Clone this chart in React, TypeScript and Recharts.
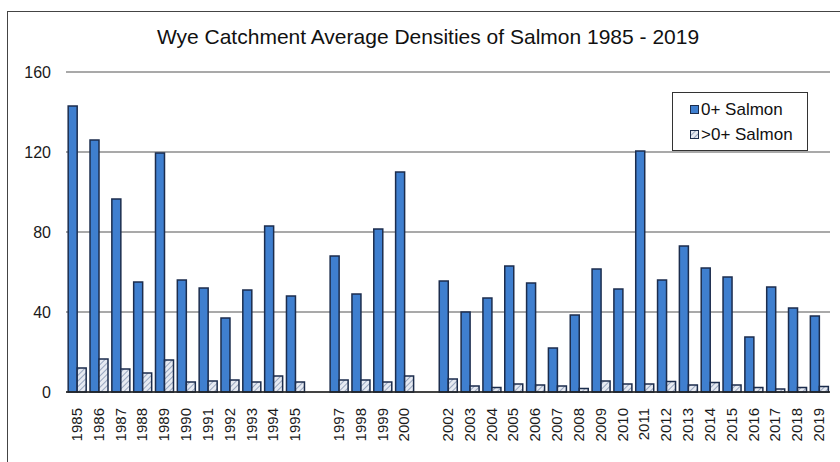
import * as React from "react";
import { BarChart, Bar, XAxis, YAxis, CartesianGrid, Legend } from "recharts";

// 1996 and 2001 were not surveyed: keep the slot, leave the label blank
const YEARS: string[] = [
  "1985", "1986", "1987", "1988", "1989", "1990", "1991", "1992", "1993", "1994", "1995",
  "", "1997", "1998", "1999", "2000", "", "2002", "2003", "2004", "2005", "2006", "2007",
  "2008", "2009", "2010", "2011", "2012", "2013", "2014", "2015", "2016", "2017", "2018", "2019",
];

const SALMON_0: (number | null)[] = [
  143, 126, 96.5, 55, 119.5, 56, 52, 37, 51, 83, 48,
  null, 68, 49, 81.5, 110, null, 55.5, 40, 47, 63, 54.5, 22,
  38.5, 61.5, 51.5, 120.5, 56, 73, 62, 57.5, 27.5, 52.5, 42, 38,
];

const SALMON_OLDER: (number | null)[] = [
  12, 16.5, 11.5, 9.5, 16, 5, 5.5, 6, 5, 8, 5,
  null, 6, 6, 5, 8, null, 6.5, 3, 2.3, 4, 3.5, 3,
  1.8, 5.5, 4, 4, 5.2, 3.5, 4.7, 3.5, 2.3, 1.5, 2.3, 2.7,
];

const Y_TICKS = [0, 40, 80, 120, 160];

const FONT = "'Liberation Sans', Arial, sans-serif";
const BLUE = "#3f7fcf";
const EDGE = "#1c2d4d";

const data = YEARS.map((year, i) => ({
  year,
  young: SALMON_0[i],
  older: SALMON_OLDER[i],
}));

function YearTick(props: any) {
  const { x, y, payload } = props;
  return (
    <text
      x={0}
      y={0}
      transform={`translate(${x + 5},${y + 8}) rotate(-90)`}
      textAnchor="end"
      fontSize={15}
      fontFamily={FONT}
      fill="#1a1a1a"
    >
      {payload.value}
    </text>
  );
}

function ValueTick(props: any) {
  const { y, payload } = props;
  return (
    <text x={51} y={y + 5.5} textAnchor="end" fontSize={16} fontFamily={FONT} fill="#1a1a1a">
      {payload.value}
    </text>
  );
}

function LegendBox(props: any) {
  const items = props.payload || [];
  return (
    <div
      style={{
        border: "1px solid #333",
        background: "#fff",
        padding: "4px 0 6px 17px",
        fontFamily: FONT,
        fontSize: 17,
        color: "#111",
        boxSizing: "border-box",
        width: 136,
        height: 59,
      }}
    >
      {items.map((it: any) => (
        <div key={it.value} style={{ display: "flex", alignItems: "center", height: 25 }}>
          <svg width={9} height={9} style={{ marginRight: 2 }}>
            <rect
              x={0.5}
              y={0.5}
              width={8}
              height={8}
              fill={it.dataKey === "young" ? BLUE : "url(#hatch)"}
              stroke={EDGE}
              strokeWidth={1}
            />
          </svg>
          <span>{it.value}</span>
        </div>
      ))}
    </div>
  );
}

export default function App() {
  return (
    <div style={{ position: "absolute", left: 0, top: 0, width: 840, height: 462, background: "#fff", overflow: "hidden" }}>
      <div
        style={{
          position: "absolute",
          left: 7,
          top: 11,
          width: 860,
          height: 470,
          borderLeft: "1px solid #444",
          borderTop: "1px solid #444",
        }}
      />
      <div
        style={{
          position: "absolute",
          left: 0,
          width: 856,
          top: 25,
          textAlign: "center",
          fontFamily: FONT,
          fontSize: 21,
          color: "#111",
        }}
      >
        Wye Catchment Average Densities of Salmon 1985 - 2019
      </div>
      <BarChart
        width={840}
        height={462}
        data={data}
        margin={{ top: 72, right: 10, left: 16, bottom: 10 }}
        barCategoryGap="10%"
        barGap={0}
        style={{ position: "absolute", left: 0, top: 0 }}
      >
        <defs>
          <pattern id="hatch" width={4} height={4} patternUnits="userSpaceOnUse" patternTransform="rotate(45)">
            <rect width={4} height={4} fill="#e6eaf2" />
            <line x1={0} y1={0} x2={0} y2={4} stroke="#98a6bf" strokeWidth={2} />
          </pattern>
        </defs>
        <CartesianGrid vertical={false} stroke="#8c8c8c" strokeWidth={1.5} />
        <XAxis
          dataKey="year"
          interval={0}
          tickLine={false}
          axisLine={{ stroke: "#222", strokeWidth: 1.5 }}
          tick={<YearTick />}
          height={60}
        />
        <YAxis
          domain={[0, 160]}
          ticks={Y_TICKS}
          axisLine={false}
          tickLine={false}
          width={50}
          tick={<ValueTick />}
        />
        <Legend
          layout="vertical"
          verticalAlign="middle"
          align="center"
          content={<LegendBox />}
          wrapperStyle={{ left: 672, top: 92, width: 136, height: 59, right: "auto", bottom: "auto" }}
        />
        <Bar dataKey="young" name="0+ Salmon" fill={BLUE} stroke={EDGE} strokeWidth={1.5} isAnimationActive={false} />
        <Bar dataKey="older" name=">0+ Salmon" fill="url(#hatch)" stroke={EDGE} strokeWidth={1.5} isAnimationActive={false} />
      </BarChart>
    </div>
  );
}
